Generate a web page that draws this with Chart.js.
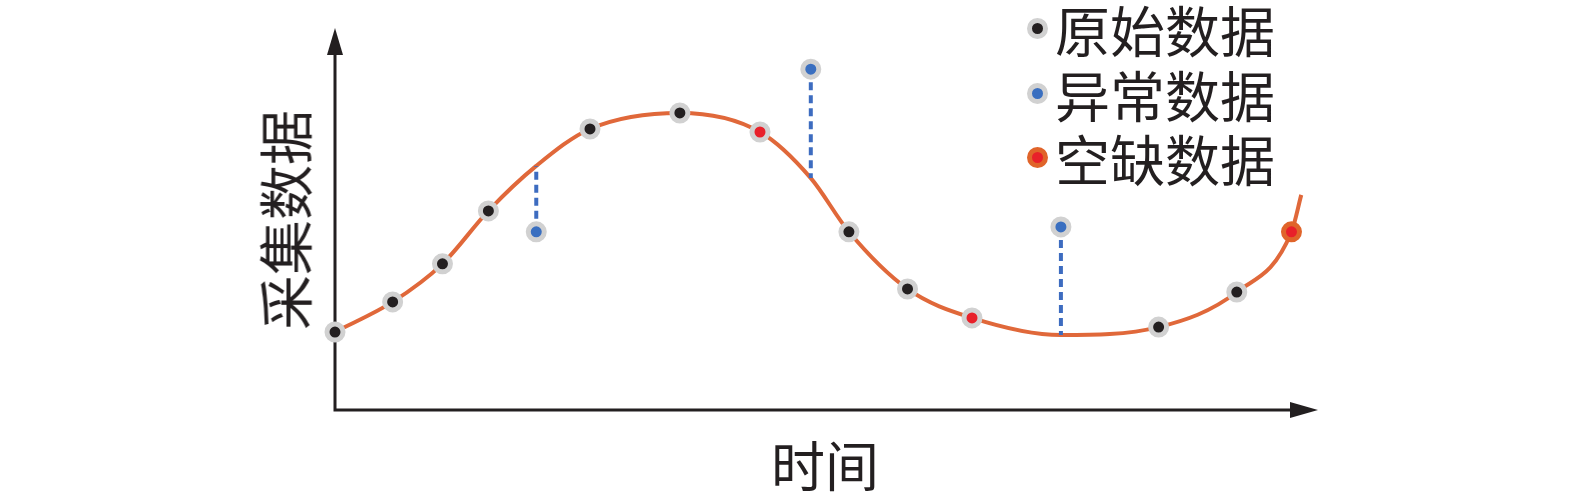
<!DOCTYPE html>
<html>
<head>
<meta charset="utf-8">
<script src="https://cdn.jsdelivr.net/npm/chart.js@4/dist/chart.umd.min.js"></script>
<style>
  html, body { margin: 0; padding: 0; background: #fff; }
  #wrap { position: relative; width: 1575px; height: 500px; overflow: hidden; }
  canvas { position: absolute; left: 0; top: 0; }
  .txt { position: absolute; font-family: "Noto Sans CJK SC", "Noto Sans", sans-serif; color: #231f20; font-size: 54px; line-height: 1; white-space: nowrap; }
  .leg { position: absolute; left: 1027px; height: 60px; display: flex; align-items: center; }
  .mk { width: 11px; height: 11px; border-radius: 50%; border: 5px solid #d1d1d1; margin-right: 7px; }
  .leg span { font-family: "Noto Sans CJK SC", sans-serif; font-size: 55px; color: #231f20; line-height: 1; }
</style>
</head>
<body>
<div id="wrap">
  <canvas id="c" width="1575" height="500"></canvas>
  <div class="txt" id="ytitle" style="left:283px; top:220px; font-size:55px; transform: translate(-50%,-50%) rotate(-90deg);">采集数据</div>
  <div class="txt" id="xtitle" style="left:825px; top:464px; transform: translate(-50%,-50%);">时间</div>
  <div class="leg" style="top:-2px;"><div class="mk" style="background:#231f20"></div><span>原始数据</span></div>
  <div class="leg" style="top:63px;"><div class="mk" style="background:#3a6fc0"></div><span>异常数据</span></div>
  <div class="leg" style="top:127px;"><div class="mk" style="background:#e8202a;border-color:#e0642a"></div><span>空缺数据</span></div>
</div>
<script>
// ---- data ----
const curveX = [0, 5.9, 11.0, 15.7, 20.6, 26.1, 35.3, 43.5, 48.7, 52.6, 58.6, 65.2, 74.3, 84.3, 92.3, 97.9, 98.9];
const curveY = [20.2, 28.1, 38.1, 52.0, 63.8, 73.5, 77.7, 72.7, 60.6, 46.5, 31.5, 23.9, 19.4, 21.5, 30.7, 46.5, 56.2];
const rawX = [0, 5.9, 11.0, 15.7, 26.1, 35.3, 52.6, 58.6, 84.3, 92.3];
const rawY = [20.2, 28.1, 38.1, 52.0, 73.5, 77.7, 46.5, 31.5, 21.5, 30.7];
const missX = [43.5, 65.2, 97.9];
const missY = [72.7, 23.9, 46.5];
const anomX = [20.6, 48.7, 74.3];
const anomY = [46.5, 89.2, 47.8];
const anomCurveY = [63.8, 60.6, 19.4];
const seriesNames = ['原始数据', '异常数据', '空缺数据'];

const pts = (xs, ys) => xs.map((x, i) => ({ x, y: ys[i] }));

const datasets = [];
datasets.push({
  label: 'curve', data: pts(curveX, curveY), borderColor: '#e0683a', borderWidth: 4,
  pointRadius: 0, cubicInterpolationMode: 'monotone', order: 5, clip: false
});
anomX.forEach((x, i) => {
  datasets.push({
    label: 'anomLink' + i, data: [{ x, y: anomY[i] }, { x, y: anomCurveY[i] }],
    borderColor: '#3d6cc0', borderWidth: 4, borderDash: [8, 5], borderCapStyle: 'butt',
    pointRadius: 0, order: 4, clip: false
  });
});
datasets.push({
  label: seriesNames[0], data: pts(rawX, rawY), showLine: false,
  pointRadius: 8, pointBorderWidth: 5, pointBackgroundColor: '#231f20', pointBorderColor: '#d1d1d1', order: 1, clip: false
});
datasets.push({
  label: seriesNames[1], data: pts(anomX, anomY), showLine: false,
  pointRadius: 8, pointBorderWidth: 5, pointBackgroundColor: '#3a6fc0', pointBorderColor: '#d1d1d1', order: 1, clip: false
});
datasets.push({
  label: seriesNames[2], data: pts(missX, missY), showLine: false,
  pointRadius: 8, pointBorderWidth: 5, pointBackgroundColor: '#e8202a',
  pointBorderColor: ['#d1d1d1', '#d1d1d1', '#e0642a'], order: 1, clip: false
});

const axesPlugin = {
  id: 'arrowAxes',
  beforeDatasetsDraw(chart) {
    const { ctx, chartArea: a } = chart;
    const xTip = a.right + 6;
    const yAxisY = a.bottom + 1;
    ctx.save();
    ctx.strokeStyle = '#231f20'; ctx.fillStyle = '#231f20'; ctx.lineWidth = 3;
    ctx.beginPath();
    ctx.moveTo(a.left, a.top + 20); ctx.lineTo(a.left, yAxisY);
    ctx.lineTo(xTip - 20, yAxisY);
    ctx.stroke();
    // y arrow
    ctx.beginPath();
    ctx.moveTo(a.left, a.top); ctx.lineTo(a.left - 8, a.top + 27); ctx.lineTo(a.left + 8, a.top + 27); ctx.closePath(); ctx.fill();
    // x arrow
    ctx.beginPath();
    ctx.moveTo(xTip, yAxisY); ctx.lineTo(xTip - 28, yAxisY - 8); ctx.lineTo(xTip - 28, yAxisY + 8); ctx.closePath(); ctx.fill();
    ctx.restore();
  }
};

new Chart(document.getElementById('c'), {
  type: 'line',
  data: { datasets },
  plugins: [axesPlugin],
  options: {
    responsive: false, animation: false, devicePixelRatio: 1,
    layout: { padding: { left: 335, right: 263, top: 28, bottom: 91 } },
    scales: {
      x: { type: 'linear', min: 0, max: 100, display: false },
      y: { type: 'linear', min: 0, max: 100, display: false }
    },
    plugins: { legend: { display: false }, tooltip: { enabled: false } }
  }
});
</script>
</body>
</html>
